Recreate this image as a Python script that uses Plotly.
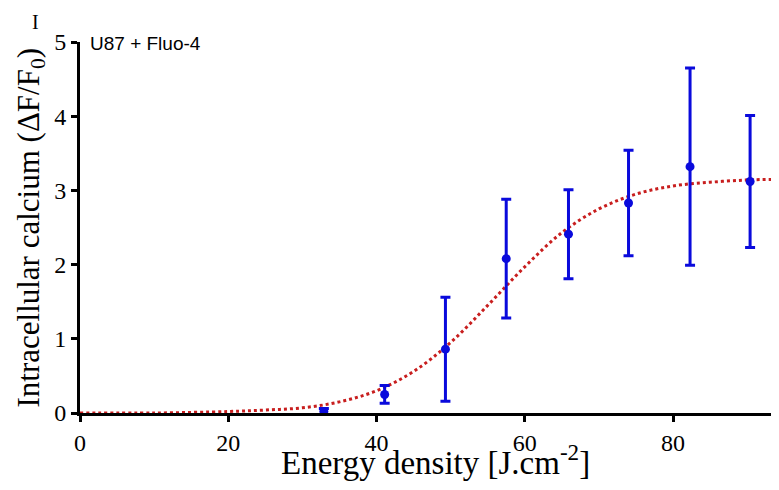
import plotly.graph_objects as go

# measured points (mean +/- error)
energy = [32.9, 41.1, 49.3, 57.5, 65.9, 74.0, 82.3, 90.4]
calcium = [0.02, 0.25, 0.86, 2.08, 2.41, 2.83, 3.32, 3.12]
calcium_err = [0.04, 0.12, 0.70, 0.80, 0.60, 0.71, 1.33, 0.89]

# fitted sigmoid
fit_x = [0, 10, 20, 25, 30, 35, 40, 45, 50, 55, 60, 65, 70, 75, 80, 85, 90, 94.3]
fit_y = [0.0, 0.0, 0.02, 0.04, 0.07, 0.15, 0.30, 0.56, 0.95, 1.45, 1.97, 2.43,
         2.75, 2.95, 3.06, 3.11, 3.14, 3.15]

x_ticks = [0, 20, 40, 60, 80]
y_ticks = [0, 1, 2, 3, 4, 5]

serif = "Liberation Serif, Times New Roman, serif"

fig = go.Figure()
fig.add_trace(go.Scatter(x=fit_x, y=fit_y, mode='lines', line_shape='spline',
                         line=dict(color='#c81e1e', width=3, dash='dot'),
                         cliponaxis=True, showlegend=False))
fig.add_trace(go.Scatter(x=energy, y=calcium, mode='markers',
                         marker=dict(color='#0a0adc', size=9),
                         error_y=dict(type='data', array=calcium_err, color='#0a0adc',
                                      thickness=3, width=5),
                         cliponaxis=False, showlegend=False))

axis_style = dict(ticks='outside', ticklen=6, tickwidth=3, tickcolor='black',
                  showline=True, linewidth=3, linecolor='black', showgrid=False,
                  zeroline=False, automargin=False,
                  tickfont=dict(family=serif, size=24, color='black'))

# the page body adds 8px round the figure, so size it to the window
fig.update_layout(
    width=771, height=474,
    margin=dict(l=72, r=0, t=34, b=69),
    plot_bgcolor='white', paper_bgcolor='white',
    xaxis=dict(range=[0, 94.3], tickvals=x_ticks, **axis_style),
    yaxis=dict(range=[0, 5], tickvals=y_ticks, **axis_style),
)

# axis titles as annotations so they sit where the reference has them
fig.add_annotation(text='Energy density [J.cm<sup>-2</sup>]', xref='paper', yref='paper',
                   x=0.508, y=-0.128, xanchor='center', yanchor='middle', showarrow=False,
                   font=dict(family=serif, size=33, color='black'))
fig.add_annotation(text='Intracellular calcium (\u0394F/F<sub>0</sub>)', xref='paper', yref='paper',
                   x=-0.0715, y=0.50, xanchor='center', yanchor='middle', showarrow=False,
                   textangle=-90, font=dict(family=serif, size=31, color='black'))
fig.add_annotation(text='I', xref='paper', yref='paper', x=-0.063, y=1.054,
                   xanchor='center', yanchor='middle', showarrow=False,
                   font=dict(family=serif, size=20, color='black'))
fig.add_annotation(text='U87 + Fluo-4', xref='paper', yref='paper', x=0.011, y=0.995,
                   xanchor='left', yanchor='middle', showarrow=False,
                   font=dict(family='Liberation Sans, Arial, sans-serif', size=19, color='black'))

fig.write_html("out.html")
